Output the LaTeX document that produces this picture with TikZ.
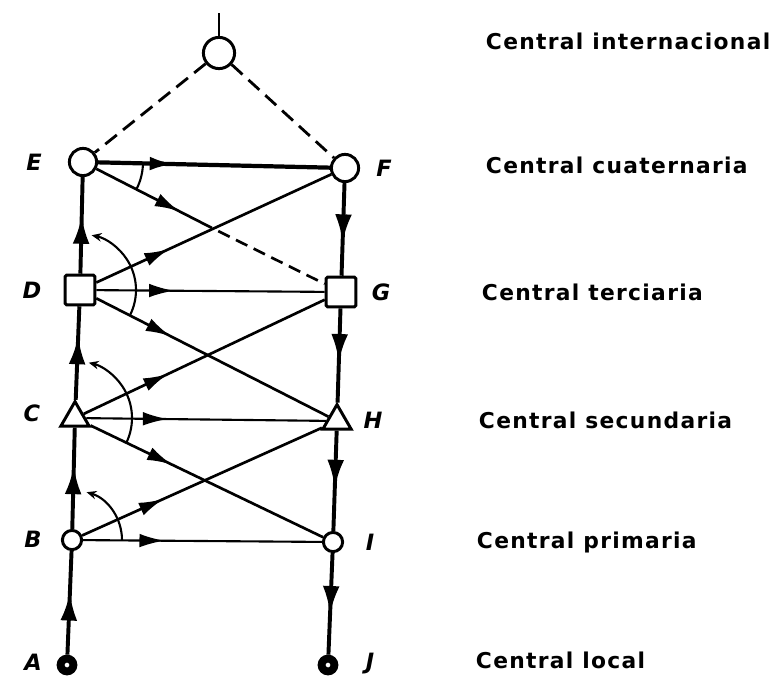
\documentclass[tikz,border=0pt]{standalone}
\usepackage{fontspec}
\newfontfamily\levelfont[LetterSpace=6]{DejaVu Sans}
\newfontfamily\pointfont{DejaVu Sans}
\usetikzlibrary{arrows.meta}
\usetikzlibrary{decorations.markings}
\usetikzlibrary{shapes.geometric}

\begin{document}
\begin{tikzpicture}[
    x=0.025cm, y=-0.025cm,
    hub/.style={draw, circle, fill=white, line width=2.1pt, inner sep=0pt, minimum size=#1},
    sq/.style={draw, rectangle, fill=white, line width=2.1pt, inner sep=0pt, minimum size=0.74cm, rounded corners=1pt},
    tri/.style={draw, regular polygon, regular polygon sides=3, fill=white, line width=2.1pt, inner sep=0pt, minimum size=0.82cm},
    stub/.style={draw, circle, fill=white, line width=5.6pt, inner sep=0pt, minimum size=0.32cm},
    pt/.style={font=\pointfont\bfseries\itshape\fontsize{16}{18}\selectfont},
    lvl/.style={anchor=base west, font=\levelfont\bfseries\fontsize{15.5}{18}\selectfont},
    flow/.style={postaction={decorate}, decoration={markings, mark=at position #1 with {\arrow{Latex[length=0.62cm, width=0.34cm]}}}},
    bigflow/.style={postaction={decorate}, decoration={markings, mark=at position #1 with {\arrow{Latex[length=0.7cm, width=0.42cm]}}}},
    riser/.style={line width=2.8pt},
    cross/.style={line width=1.5pt, flow=0.34},
    diag/.style={line width=1.9pt},
    dashline/.style={line width=2pt, dash pattern=on 10.5pt off 5.7pt},
    arcline/.style={line width=1.5pt}
]

\useasboundingbox (0,0) rectangle (773,685);

% exchanges
\node[hub=0.78cm] (T) at (219,53) {};
\node[hub=0.68cm] (E) at (83,162) {};
\node[hub=0.68cm] (F) at (345,168) {};
\node[sq] (D) at (80,290) {};
\node[sq] (G) at (341,292) {};
\node[tri] (C) at (75,418) {};
\node[tri] (H) at (337,421) {};
\node[hub=0.48cm] (B) at (72,540) {};
\node[hub=0.48cm] (I) at (333,542) {};
\node[stub] (A) at (67,665) {};
\node[stub] (J) at (328,665) {};

% letters
\node[pt] (lE) at (34,162) {E};
\node[pt] (lF) at (384,168) {F};
\node[pt] (lD) at (32,290) {D};
\node[pt] (lG) at (381,292) {G};
\node[pt] (lC) at (32,413) {C};
\node[pt] (lH) at (373,420) {H};
\node[pt] (lB) at (33,539) {B};
\node[pt] (lI) at (370,542) {I};
\node[pt] (lA) at (33,662) {A};
\node[pt] (lJ) at (370,664) {J};

% levels
\node[lvl] (n1) at (481,49) {Central internacional};
\node[lvl] (n2) at (481,173) {Central cuaternaria};
\node[lvl] (n3) at (477,300) {Central terciaria};
\node[lvl] (n4) at (474,428) {Central secundaria};
\node[lvl] (n5) at (472,548) {Central primaria};
\node[lvl] (n6) at (471,668) {Central local};

% international links
\coordinate (up) at (219,13);
\draw[line width=2pt] (T) -- (up);
\draw[dashline] (T) -- (E);
\draw[dashline] (T) -- (F);

% final route up and down
\draw[riser, bigflow=0.6] (A) -- (B);
\draw[riser, bigflow=0.62] (B) -- (C);
\draw[riser, bigflow=0.68] (C) -- (D);
\draw[riser, bigflow=0.6] (D) -- (E);
\draw[riser, bigflow=0.64] (F) -- (G);
\draw[riser, bigflow=0.57] (G) -- (H);
\draw[riser, bigflow=0.57] (H) -- (I);
\draw[riser, bigflow=0.6] (I) -- (J);

% high usage routes
\draw[line width=3pt, flow=0.33] (E) -- (F);
\draw[cross] (D) -- (G);
\draw[cross] (C) -- (H);
\draw[cross] (B) -- (I);

\coordinate (x1) at (212,228);
\draw[diag, flow=0.72] (E) -- (x1);
\draw[diag, dash pattern=on 9pt off 5pt, dash phase=9pt] (x1) -- (G);
\draw[diag, flow=0.31] (D) -- (F);
\draw[diag, flow=0.32] (D) -- (H);
\draw[diag, flow=0.35] (C) -- (G);
\draw[diag, flow=0.35] (C) -- (I);
\draw[diag, flow=0.34] (B) -- (H);

% choice order
\draw[arcline] (E) ++(0:60) arc[start angle=0, end angle=27, radius=60];
\draw[arcline, -{Stealth[length=7pt, width=6pt]}] (D) ++(27:56) arc[start angle=27, end angle=-78, radius=56];
\draw[arcline, -{Stealth[length=7pt, width=6pt]}] (C) ++(26:57) arc[start angle=26, end angle=-76, radius=57];
\draw[arcline, -{Stealth[length=7pt, width=6pt]}] (B) ++(0:50) arc[start angle=0, end angle=-73, radius=50];

\end{tikzpicture}
\end{document}
